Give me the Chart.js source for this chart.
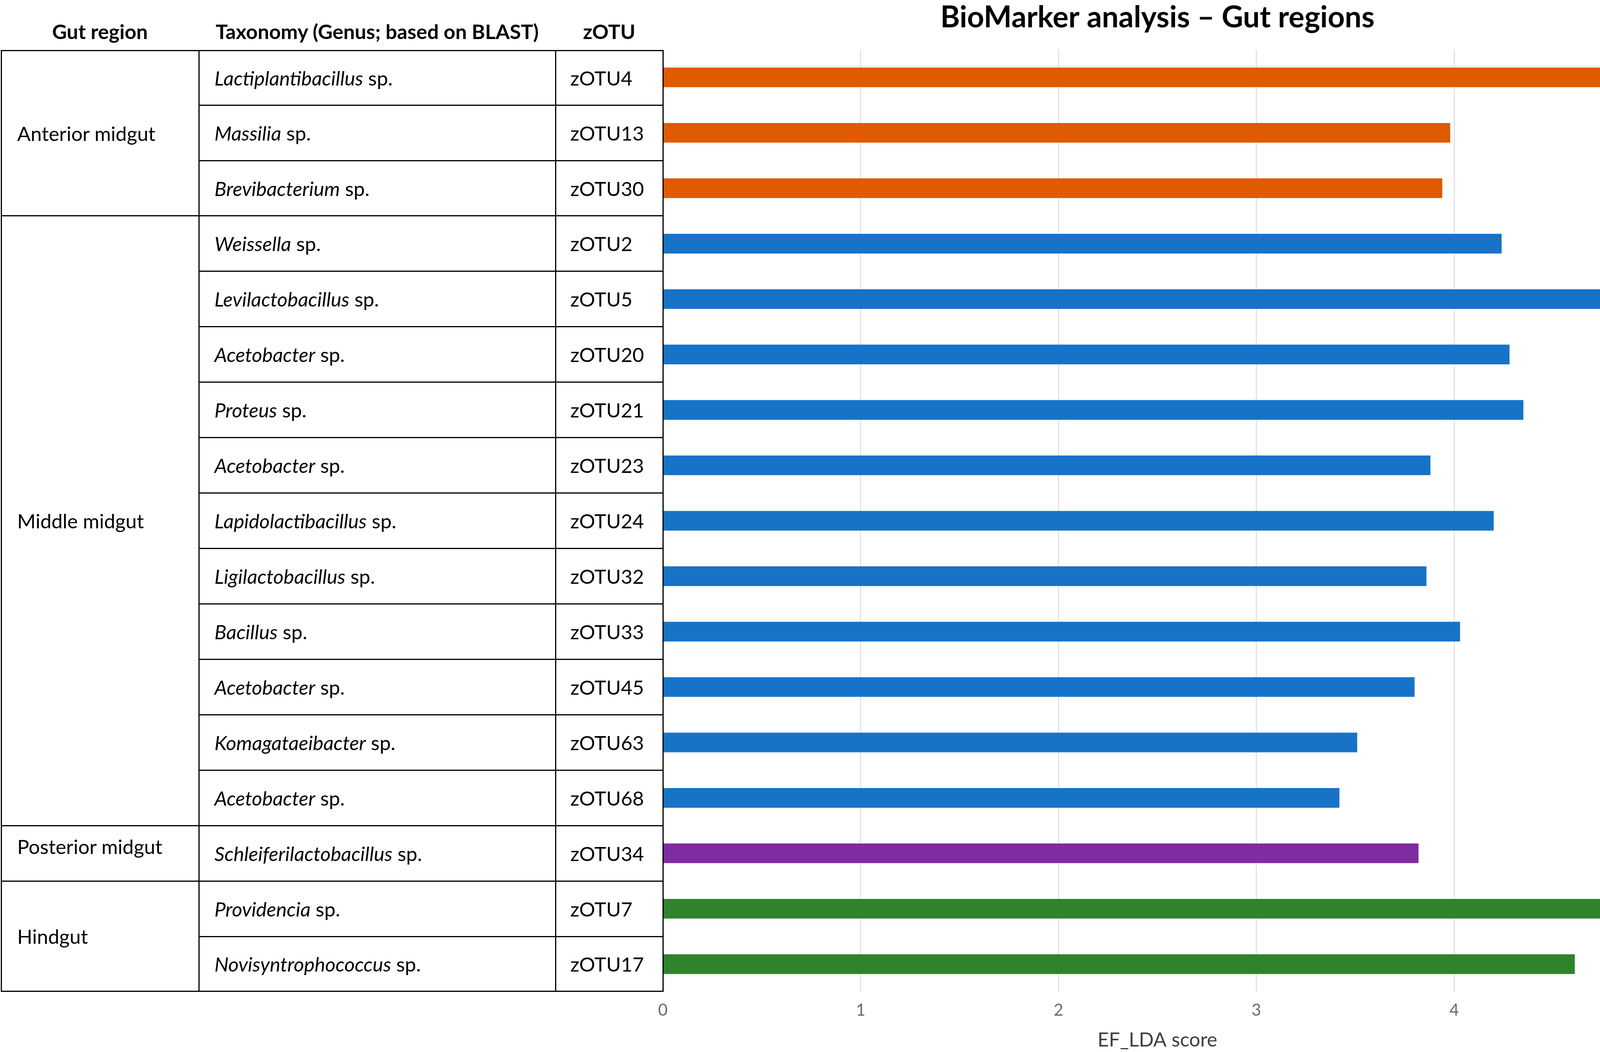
<!DOCTYPE html>
<html>
<head>
<meta charset="utf-8">
<title>BioMarker analysis – Gut regions</title>
<script src="https://cdn.jsdelivr.net/npm/chart.js@4.4.0/dist/chart.umd.min.js"></script>
<style>
  html, body { margin: 0; padding: 0; background: #fff; }
  #wrap { position: relative; width: 4317px; height: 2694px; font-family: Lato, "Open Sans", sans-serif; }
  #chart { position: absolute; left: 0; top: 0; }
  .cell { position: absolute; display: flex; align-items: center; font-size: 51px; color: #000; white-space: nowrap; }
  .hdr { position: absolute; font-weight: bold; font-size: 52px; color: #000; text-align: center; white-space: nowrap; }
  .ln { position: absolute; background: #000; }
</style>
</head>
<body>
<div id="wrap">
  <canvas id="chart" width="4317" height="2694"></canvas>
  <div id="table"></div>
</div>
<script>
// table headers
var headers = ["Gut region", "Taxonomy (Genus; based on BLAST)", "zOTU"];

// gut regions and how many zOTUs each holds (top to bottom)
var regions = ["Anterior midgut", "Middle midgut", "Posterior midgut", "Hindgut"];
var regionCounts = [3, 11, 1, 2];
var regionColors = ["#E05A00", "#1773C8", "#7F2BA1", "#2F832D"];

var genera = [
    "Lactiplantibacillus", "Massilia", "Brevibacterium",
    "Weissella", "Levilactobacillus", "Acetobacter", "Proteus", "Acetobacter",
    "Lapidolactibacillus", "Ligilactobacillus", "Bacillus", "Acetobacter",
    "Komagataeibacter", "Acetobacter",
    "Schleiferilactobacillus",
    "Providencia", "Novisyntrophococcus"
];
var zotus = [
    "zOTU4", "zOTU13", "zOTU30",
    "zOTU2", "zOTU5", "zOTU20", "zOTU21", "zOTU23", "zOTU24", "zOTU32",
    "zOTU33", "zOTU45", "zOTU63", "zOTU68",
    "zOTU34",
    "zOTU7", "zOTU17"
];
var ldaScores = [
    4.83, 3.98, 3.94,
    4.24, 4.99, 4.28, 4.35, 3.88, 4.20, 3.86, 4.03, 3.80, 3.51, 3.42,
    3.82,
    4.75, 4.61
];
var xTicks = [0, 1, 2, 3, 4, 5];

// one colour per bar, from its region
var barColors = [];
regions.forEach(function (r, i) {
    for (var k = 0; k < regionCounts[i]; k++) barColors.push(regionColors[i]);
});

var ctx = document.getElementById("chart").getContext("2d");
var chart = new Chart(ctx, {
    type: "bar",
    data: {
        labels: zotus,
        datasets: [{
            data: ldaScores,
            backgroundColor: barColors,
            borderWidth: 0,
            barPercentage: 0.355,
            categoryPercentage: 1.0
        }]
    },
    options: {
        indexAxis: "y",
        responsive: false,
        animation: false,
        devicePixelRatio: 1,
        layout: { padding: { left: 1697, right: 88, top: 0, bottom: 0 } },
        plugins: {
            legend: { display: false },
            tooltip: { enabled: false },
            title: {
                display: true,
                text: "BioMarker analysis – Gut regions",
                fullSize: false,
                color: "#000",
                font: { family: "Lato", size: 76, weight: "bold" },
                padding: { top: 0, bottom: 36 }
            }
        },
        scales: {
            y: {
                type: "category",
                display: false
            },
            x: {
                min: 0,
                max: 5,
                afterBuildTicks: function (axis) {
                    axis.ticks = xTicks.map(function (v) { return { value: v }; });
                },
                grid: { color: "#d6d6d6", lineWidth: 2, drawTicks: false },
                border: { display: false },
                ticks: {
                    color: "#6a6a6a",
                    padding: 26,
                    font: { family: "Lato", size: 42, lineHeight: 1.0 }
                },
                title: {
                    display: true,
                    text: "EF_LDA score",
                    color: "#404040",
                    font: { family: "Lato", size: 50 },
                    padding: { top: 0, bottom: 0 }
                }
            }
        }
    }
});

// ---- table on the left, rows lined up with the bar scale ----
var tbl = document.getElementById("table");
var yScale = chart.scales.y;
var step = (yScale.bottom - yScale.top) / zotus.length;
var tableTop = yScale.top + 2;
var tableBottom = yScale.bottom - 2;
var colX = [3, 509, 1422, chart.chartArea.left];
var LW = 3;

function rowTop(i) { return yScale.getPixelForValue(i) - step / 2; }

function addDiv(cls, x, y, w, h, html, extra) {
    var d = document.createElement("div");
    d.className = cls;
    d.style.left = x + "px";
    d.style.top = y + "px";
    d.style.width = w + "px";
    d.style.height = h + "px";
    if (html) d.innerHTML = html;
    if (extra) Object.assign(d.style, extra);
    tbl.appendChild(d);
    return d;
}

function hLine(x1, x2, y) { addDiv("ln", x1 - LW / 2, y - LW / 2, x2 - x1 + LW, LW); }
function vLine(x, y1, y2) { addDiv("ln", x - LW / 2, y1 - LW / 2, LW, y2 - y1 + LW); }

// headers
headers.forEach(function (h, c) {
    addDiv("hdr", colX[c], 48, colX[c + 1] - colX[c], 64, h, { lineHeight: "64px" });
});

// outer / column lines
colX.forEach(function (x) { vLine(x, tableTop, tableBottom); });
hLine(colX[0], colX[3], tableTop);
hLine(colX[0], colX[3], tableBottom);

// taxonomy + zOTU rows
zotus.forEach(function (z, i) {
    var top = Math.max(rowTop(i), tableTop);
    var bot = Math.min(rowTop(i) + step, tableBottom);
    addDiv("cell", colX[1] + 40, top, colX[2] - colX[1] - 40, bot - top,
        "<span><i>" + genera[i] + "</i> sp.</span>");
    addDiv("cell", colX[2] + 38, top, colX[3] - colX[2] - 38, bot - top, z);
    if (i > 0) hLine(colX[1], colX[3], rowTop(i));
});

// merged region cells
var start = 0;
regions.forEach(function (r, g) {
    var top = Math.max(rowTop(start), tableTop);
    var end = start + regionCounts[g];
    var bot = Math.min(rowTop(end - 1) + step, tableBottom);
    var shift = regionCounts[g] === 1 ? -18 : 0;
    addDiv("cell", colX[0] + 41, top + shift, colX[1] - colX[0] - 41, bot - top, r);
    if (start > 0) hLine(colX[0], colX[1], top);
    start = end;
});
</script>
</body>
</html>
